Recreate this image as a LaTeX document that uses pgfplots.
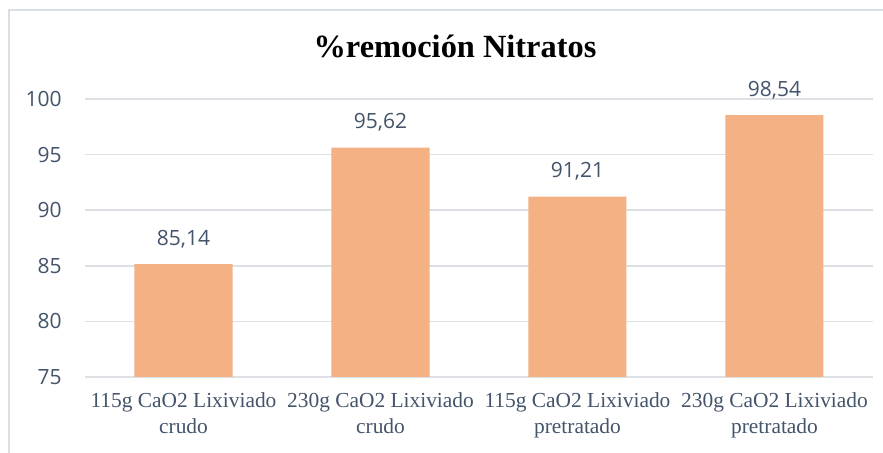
\documentclass[border=0pt]{standalone}
\usepackage{fontspec}
\setmainfont{Liberation Serif}
\newfontfamily\labfont{Open Sans}
\usepackage{pgfplots}
\pgfplotsset{compat=1.18}
\definecolor{barc}{HTML}{F4B183}
\definecolor{txt}{HTML}{44546A}
\definecolor{gridc}{HTML}{DDE1E6}
\definecolor{framec}{HTML}{D9DEE4}
\newcommand{\lab}[2]{\begin{tabular}{@{}c@{}}#1\\#2\end{tabular}}
\begin{document}
\begin{tikzpicture}
\useasboundingbox (0,0) rectangle (441.5pt,226.5pt);
\fill[white] (0,0) rectangle (441.5pt,226.5pt);
\draw[framec, line width=0.8pt] (4.5pt,0) -- (4.5pt,221.5pt) -- (441.5pt,221.5pt);
\begin{axis}[
    at={(42.5pt,38pt)}, anchor=south west,
    scale only axis,
    width=394pt, height=139pt,
    xmin=-0.5, xmax=3.5,
    ymin=75, ymax=100,
    ytick={75,80,...,100},
    xtick=data,
    xticklabels={\lab{115g CaO2 Lixiviado}{crudo},\lab{230g CaO2 Lixiviado}{crudo},\lab{115g CaO2 Lixiviado}{pretratado},\lab{230g CaO2 Lixiviado}{pretratado}},
    ymajorgrids,
    grid style={gridc, line width=0.8pt},
    axis line style={draw=none},
    major tick length=0pt,
    tick style={draw=none},
    /pgf/number format/assume math mode=true,
    yticklabel style={font=\labfont\fontsize{10.5}{12}\selectfont, color=txt, anchor=east, inner sep=0pt, xshift=-11.5pt},
    xticklabel style={font=\fontsize{10.7}{13}\selectfont, color=txt, anchor=north, inner sep=0pt, yshift=-5.9pt},
    ybar, bar width=49pt,
    nodes near coords,
    nodes near coords style={font=\labfont\fontsize{10.5}{12}\selectfont, color=txt, anchor=base, inner sep=0pt, yshift=9.5pt,
        /pgf/number format/.cd, fixed, fixed zerofill, precision=2, use comma},
    clip=false,
]
\addplot[fill=barc, draw=none] coordinates {(0,85.14) (1,95.62) (2,91.21) (3,98.54)};
\end{axis}
\node[anchor=base, font=\bfseries\fontsize{16.2}{19}\selectfont] at (227.5pt,197.5pt) {\%remoción Nitratos};
\end{tikzpicture}
\end{document}
